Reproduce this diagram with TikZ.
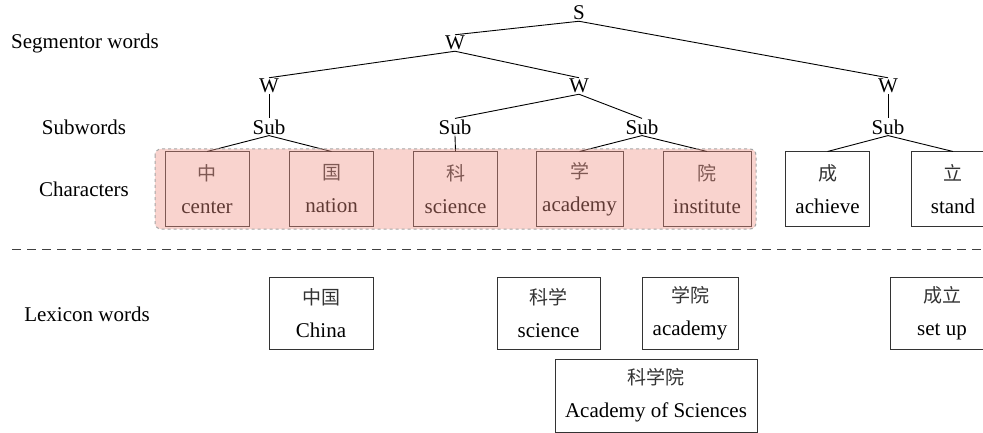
\documentclass[tikz,border=0pt]{standalone}
\usepackage{fontspec}
\setmainfont{Liberation Serif}
\newfontfamily\cjk{Noto Sans CJK SC}
\usepackage{tikz}
\usetikzlibrary{positioning}
\definecolor{grouppink}{RGB}{240,145,132}
\newcommand{\zh}[1]{{\cjk\fontsize{19}{33}\selectfont\color{black!80}#1}}
\tikzset{
    tnode/.style={inner sep=1pt, font=\fontsize{21}{25}\selectfont},
    lbl/.style={inner sep=0pt, font=\fontsize{21}{25}\selectfont},
    charbox/.style={draw=black!80, line width=1pt, minimum width=84pt, minimum height=74pt, inner sep=0pt, align=center, font=\fontsize{21}{33}\selectfont},
    lexbox/.style={charbox, minimum height=72pt},
    edge/.style={draw=black, line width=0.9pt},
    group/.style={draw=black!35, dashed, line width=1pt, rounded corners=6pt, fill=grouppink, fill opacity=0.4},
    sep/.style={draw=black!75, line width=0.8pt, dash pattern=on 9pt off 6pt}
}

\begin{document}
\begin{tikzpicture}[x=1pt, y=-1pt]
    \useasboundingbox (0,0) rectangle (983,433);
    % row labels
    \node[lbl] (lsegw) at (85,43) {Segmentor words};
    \node[lbl] (lsubw) at (84,127) {Subwords};
    \node[lbl] (lchar) at (84,189) {Characters};
    \node[lbl] (llex) at (87,314) {Lexicon words};
    % tree
    \node[tnode] (s) at (579,13) {S};
    \node[tnode] (w1) at (455,43) {W};
    \node[tnode] (w2) at (269,86) {W};
    \node[tnode] (w3) at (579,86) {W};
    \node[tnode] (w4) at (888,86) {W};
    \node[tnode] (sub1) at (269,127) {Sub};
    \node[tnode] (sub2) at (455,127) {Sub};
    \node[tnode] (sub3) at (642,127) {Sub};
    \node[tnode] (sub4) at (888,127) {Sub};
    % characters
    \node[charbox] (zhong) at (207,189) {\zh{中}\\center};
    \node[charbox] (guo) at (331.5,189) {\zh{国}\\nation};
    \node[charbox] (ke) at (455.5,189) {\zh{科}\\science};
    \node[charbox, minimum width=87pt] (xue) at (579.5,189) {\zh{学}\\academy};
    \node[charbox, minimum width=88pt] (yuan) at (707,189) {\zh{院}\\institute};
    \node[charbox] (cheng) at (827.5,189) {\zh{成}\\achieve};
    \node[charbox] (li) at (953,189) {\zh{立}\\stand};
    \draw[edge] (s.south) -- (w1.north);
    \draw[edge] (s.south) -- (w4.north);
    \draw[edge] (w1.south) -- (w2.north);
    \draw[edge] (w1.south) -- (w3.north);
    \draw[edge] (w2.south) -- (sub1.north);
    \draw[edge] (w3.south) -- (sub2.north);
    \draw[edge] (w3.south) -- (sub3.north);
    \draw[edge] (w4.south) -- (sub4.north);
    \draw[edge] (sub1.south) -- (zhong.north);
    \draw[edge] (sub1.south) -- (guo.north);
    \draw[edge] (sub2.south) -- (ke.north);
    \draw[edge] (sub3.south) -- (xue.north);
    \draw[edge] (sub3.south) -- (yuan.north);
    \draw[edge] (sub4.south) -- (cheng.north);
    \draw[edge] (sub4.south) -- (li.north);
    % highlighted characters
    \draw[group] (155,149) rectangle (756,229);
    % separator
    \coordinate (sepl) at (12,249);
    \coordinate (sepr) at (983,249);
    \draw[sep] (sepl) -- (sepr);
    % lexicon words
    \node[lexbox, minimum width=104pt] (zhongguo) at (321,313) {\zh{中国}\\China};
    \node[lexbox, minimum width=103pt] (kexue) at (548.5,313) {\zh{科学}\\science};
    \node[lexbox, minimum width=96pt] (xueyuan) at (690,313) {\zh{学院}\\academy};
    \node[lexbox, minimum width=104pt] (chengli) at (942,313) {\zh{成立}\\set up};
    \node[lexbox, minimum width=202pt, minimum height=73pt] (kexueyuan) at (656,395.5) {\zh{科学院}\\Academy of Sciences};
\end{tikzpicture}
\end{document}
